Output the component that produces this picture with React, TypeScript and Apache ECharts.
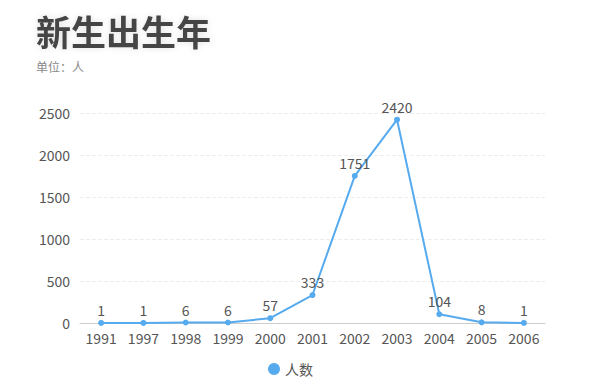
import React, { useEffect, useRef } from "react";
import * as echarts from "echarts";

const categories = ["1991", "1997", "1998", "1999", "2000", "2001", "2002", "2003", "2004", "2005", "2006"];
const values = [1, 1, 6, 6, 57, 333, 1751, 2420, 104, 8, 1];
const seriesName = "人数";
const titleText = "新生出生年";
const subText = "单位：人";

const FONT = "'Noto Sans CJK SC', 'Noto Sans', sans-serif";

export default function App() {
  const ref = useRef<HTMLDivElement>(null);
  useEffect(() => {
    if (!ref.current) return;
    const chart = echarts.init(ref.current, undefined, { renderer: "svg" });
    chart.setOption({
      animation: false,
      textStyle: { fontFamily: FONT },
      title: {
        text: titleText,
        subtext: subText,
        left: 28,
        top: 2,
        padding: 0,
        itemGap: 10,
        textStyle: {
          fontSize: 35,
          lineHeight: 40,
          fontWeight: "bold",
          color: "#454545",
          fontFamily: FONT,
          textShadowColor: "rgba(0,0,0,0.12)",
          textShadowBlur: 6,
        },
        subtextStyle: { fontSize: 12, color: "#888", fontFamily: FONT },
      },
      legend: {
        data: [seriesName],
        bottom: 3,
        left: 260,
        padding: 0,
        icon: "circle",
        itemWidth: 12,
        itemHeight: 12,
        itemGap: 6,
        textStyle: { fontSize: 14, color: "#555", fontFamily: FONT },
      },
      grid: { left: 72, right: 37, top: 105, bottom: 56 },
      xAxis: {
        type: "category",
        data: categories,
        axisLine: { lineStyle: { color: "#ccc" } },
        axisTick: { alignWithLabel: true, lineStyle: { color: "#ccc" } },
        axisLabel: { fontSize: 14, color: "#555", margin: 8, fontFamily: FONT },
      },
      yAxis: {
        type: "value",
        min: 0,
        max: 2500,
        interval: 500,
        axisLine: { show: false },
        axisTick: { show: false },
        axisLabel: { fontSize: 14, color: "#555", margin: 10, fontFamily: FONT, formatter: (v: number) => String(v) },
        splitLine: { lineStyle: { color: "#eee", type: "dashed" } },
      },
      series: [
        {
          name: seriesName,
          type: "line",
          data: values,
          symbol: "circle",
          symbolSize: 6,
          itemStyle: { color: "#56aaee" },
          lineStyle: { color: "#56aaee", width: 2 },
          label: { show: true, position: "top", fontSize: 14, color: "#555", fontFamily: FONT, distance: 3 },
        },
      ],
    });
    return () => chart.dispose();
  }, []);
  return <div ref={ref} style={{ width: 574, height: 371 }} />;
}
